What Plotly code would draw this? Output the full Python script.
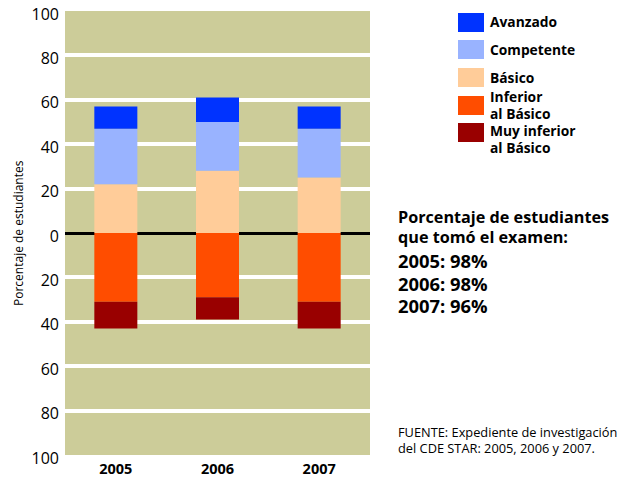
import plotly.graph_objects as go

# ---- data ----
years = ["2005", "2006", "2007"]
avanzado = [10, 11, 10]
competente = [25, 22, 22]
basico = [22, 28, 25]
inferior = [31, 29, 31]        # below zero
muy_inferior = [12, 10, 12]    # below zero
tested_pct = [98, 98, 96]

series_names = ["Avanzado", "Competente", "Básico", "Inferior<br>al Básico", "Muy inferior<br>al Básico"]
series_colors = ["#0033FF", "#99B3FF", "#FFCC99", "#FF4D00", "#990000"]

tick_vals = [100, 80, 60, 40, 20, 0, -20, -40, -60, -80, -100]
tick_text = ["100", "80", "60", "40", "20", "0", "20", "40", "60", "80", "100"]

FONT = "Open Sans"
W, H = 620, 478
L, R, T, B = 65, 250, 11, 23
PW, PH = W - L - R, H - T - B


def px(x):
    return (x - L) / PW


def py(y):
    return (H - B - y) / PH


def sized(text, size):
    """wrap each line of text in a span with its own font size (tight leading)"""
    return "<br>".join(f"<span style='font-size:{size}px'>{t}</span>" for t in text.split("<br>"))


fig = go.Figure()
stack = [
    ("Básico", basico, 1, series_colors[2]),
    ("Competente", competente, 1, series_colors[1]),
    ("Avanzado", avanzado, 1, series_colors[0]),
    ("Inferior al Básico", inferior, -1, series_colors[3]),
    ("Muy inferior al Básico", muy_inferior, -1, series_colors[4]),
]
for name, vals, sign, col in stack:
    fig.add_trace(go.Bar(
        x=years, y=[sign * v for v in vals], name=name,
        marker=dict(color=col, line=dict(width=0)),
        showlegend=False,
    ))

fig.update_layout(
    width=W, height=H,
    margin=dict(l=L, r=R, t=T, b=B, pad=0, autoexpand=False),
    paper_bgcolor="white",
    plot_bgcolor="#CCCC99",
    barmode="relative",
    bargap=0.577,
    font=dict(family=FONT, color="black"),
    xaxis=dict(
        type="category", showgrid=False, zeroline=False, showline=False,
        automargin=False,
        ticks="", tickfont=dict(family=FONT, size=14.5, weight=700, color="black"),
        ticklabelstandoff=3,
    ),
    yaxis=dict(
        range=[-100.01, 100.01], tickvals=tick_vals, ticktext=tick_text,
        automargin=False, ticklabeloverflow="allow",
        showgrid=True, gridcolor="white", gridwidth=4,
        zeroline=True, zerolinecolor="black", zerolinewidth=3,
        showline=False, ticks="",
        tickfont=dict(family=FONT, size=16, color="black"),
        ticklabelstandoff=5, ticklabelshift=3,
    ),
)

shapes = []
ann = []

# y-axis title
ann.append(dict(text="Porcentaje de estudiantes", xref="paper", yref="paper",
                x=px(18), y=py(233), textangle=-90, showarrow=False,
                xanchor="center", yanchor="middle",
                font=dict(family=FONT, size=12, color="black")))

# legend (boxes + labels)
box_tops = [13, 40, 68, 96, 123]
label_mid = [22, 50, 77, 104.5, 139]
for name, col, top, ym in zip(series_names, series_colors, box_tops, label_mid):
    shapes.append(dict(type="rect", xref="paper", yref="paper",
                       x0=px(458), x1=px(484), y0=py(top), y1=py(top + 19),
                       fillcolor=col, line=dict(width=0)))
    ann.append(dict(text=sized(name, 13.8), xref="paper", yref="paper", x=px(488), y=py(ym),
                    xanchor="left", yanchor="middle", showarrow=False, align="left",
                    font=dict(family=FONT, size=16.5 / 1.3, weight=700, color="black")))

# participation text block
ann.append(dict(text=sized("Porcentaje de estudiantes<br>que tomó el examen:", 16.2),
                xref="paper", yref="paper", align="left",
                x=px(396), y=py(226.5), xanchor="left", yanchor="middle", showarrow=False,
                font=dict(family=FONT, size=20 / 1.3, weight=700, color="black")))
year_lines = "<br>".join(f"{yr}: {pct}%" for yr, pct in zip(years, tested_pct))
ann.append(dict(text=sized(year_lines, 18.4), xref="paper", yref="paper", align="left",
                x=px(396), y=py(282.5), xanchor="left", yanchor="middle", showarrow=False,
                font=dict(family=FONT, size=22.5 / 1.3, weight=700, color="black")))

# source
ann.append(dict(text=sized("FUENTE: Expediente de investigación<br>del CDE STAR: 2005, 2006 y 2007.", 12.8),
                xref="paper", yref="paper", align="left",
                x=px(396), y=py(439.5), xanchor="left", yanchor="middle", showarrow=False,
                font=dict(family=FONT, size=16 / 1.3, color="black")))

fig.update_layout(shapes=shapes, annotations=ann)
fig.write_html("out.html", config={"displayModeBar": False},
               post_script="document.body.style.margin='0';")
